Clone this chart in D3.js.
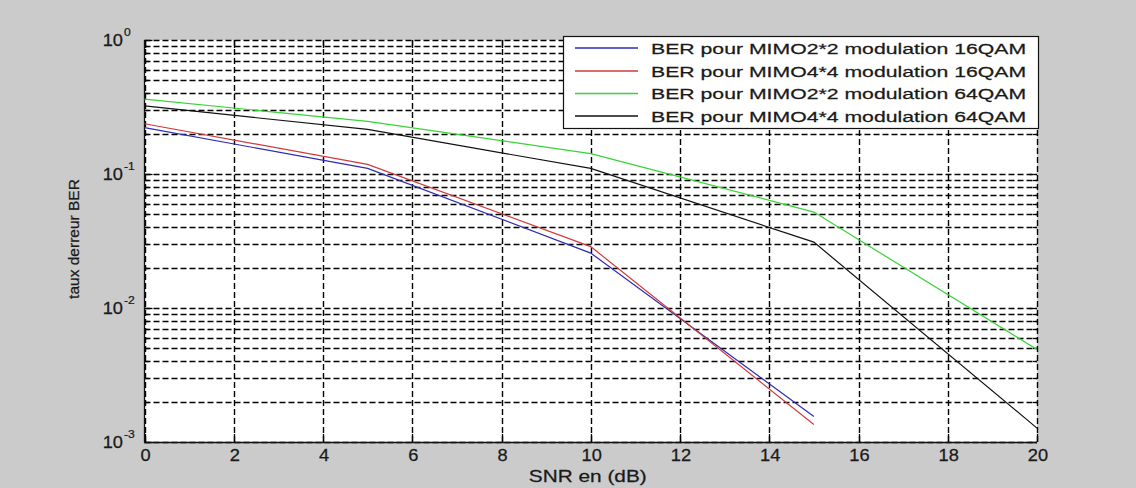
<!DOCTYPE html>
<html>
<head>
<meta charset="utf-8">
<script src="https://cdn.jsdelivr.net/npm/d3@7"></script>
<style>
  html, body { margin: 0; padding: 0; background: #cbcbcb; }
  svg { display: block; }
  text { font-family: "Liberation Sans", Arial, sans-serif; fill: #1a1a1a; stroke: #1a1a1a; stroke-width: 0.25; }
</style>
</head>
<body>
<svg id="chart" width="1136" height="488"></svg>
<script>
// SNR values (dB) for each simulation run
const snr16 = [0, 5, 10, 15];
const snr64 = [0, 5, 10, 15, 20];

// Bit error rates
const berMimo22_16qam = [0.222, 0.110, 0.0257, 0.00155];
const berMimo44_16qam = [0.237, 0.118, 0.0287, 0.00135];
const berMimo22_64qam = [0.362, 0.247, 0.142, 0.052, 0.0049];
const berMimo44_64qam = [0.322, 0.215, 0.110, 0.031, 0.00127];

const seriesNames = [
  "BER pour MIMO2*2 modulation 16QAM",
  "BER pour MIMO4*4 modulation 16QAM",
  "BER pour MIMO2*2 modulation 64QAM",
  "BER pour MIMO4*4 modulation 64QAM"
];
const seriesColors = ["#2c2cb4", "#d23a3a", "#36d436", "#111111"];

const xTicks = [0, 2, 4, 6, 8, 10, 12, 14, 16, 18, 20];
const yDecades = [1e-3, 1e-2, 1e-1, 1];
const yExponents = ["-3", "-2", "-1", "0"];

const xLabel = "SNR en (dB)";
const yLabel = "taux derreur BER";

const series = [
  { x: snr16, y: berMimo22_16qam },
  { x: snr16, y: berMimo44_16qam },
  { x: snr64, y: berMimo22_64qam },
  { x: snr64, y: berMimo44_64qam }
];

const svg = d3.select("#chart");
const plot = { left: 144.5, right: 1037, top: 40, bottom: 442 };

const x = d3.scaleLinear().domain([0, 20]).range([plot.left, plot.right]);
const y = d3.scaleLog().domain([1e-3, 1]).range([plot.bottom, plot.top]);

// axes background
svg.append("rect")
  .attr("x", plot.left).attr("y", plot.top)
  .attr("width", plot.right - plot.left).attr("height", plot.bottom - plot.top)
  .attr("fill", "#ffffff");

// minor + major log positions
const yGrid = [];
for (let e = -3; e < 0; e++) {
  for (let m = 1; m <= 9; m++) yGrid.push(m * Math.pow(10, e));
}
yGrid.push(1);

const grid = svg.append("g")
  .attr("stroke", "#000")
  .attr("stroke-width", 1.4)
  .attr("stroke-dasharray", "6,3")
  .attr("fill", "none");

grid.selectAll("line.h").data(yGrid).join("line")
  .attr("class", "h")
  .attr("x1", plot.left).attr("x2", plot.right)
  .attr("y1", d => Math.round(y(d)) + 0.5).attr("y2", d => Math.round(y(d)) + 0.5);

grid.selectAll("line.v").data(xTicks).join("line")
  .attr("class", "v")
  .attr("x1", d => Math.round(x(d)) + 0.5).attr("x2", d => Math.round(x(d)) + 0.5)
  .attr("y1", plot.top).attr("y2", plot.bottom);

// inward tick marks on all four sides
const ticks = svg.append("g").attr("stroke", "#000").attr("stroke-width", 1.3);
xTicks.forEach(t => {
  const px = Math.round(x(t)) + 0.5;
  ticks.append("line").attr("x1", px).attr("x2", px).attr("y1", plot.bottom).attr("y2", plot.bottom - 8);
  ticks.append("line").attr("x1", px).attr("x2", px).attr("y1", plot.top).attr("y2", plot.top + 8);
});
yGrid.forEach(v => {
  const py = Math.round(y(v)) + 0.5;
  const major = yDecades.includes(v);
  const len = major ? 8 : 4;
  ticks.append("line").attr("x1", plot.left).attr("x2", plot.left + len).attr("y1", py).attr("y2", py);
  ticks.append("line").attr("x1", plot.right).attr("x2", plot.right - len).attr("y1", py).attr("y2", py);
});

// solid left and bottom axis lines
svg.append("line")
  .attr("x1", plot.left).attr("x2", plot.left)
  .attr("y1", plot.top).attr("y2", plot.bottom + 0.5)
  .attr("stroke", "#111").attr("stroke-width", 1.3);
svg.append("line")
  .attr("x1", plot.left).attr("x2", plot.right)
  .attr("y1", plot.bottom + 0.5).attr("y2", plot.bottom + 0.5)
  .attr("stroke", "#111").attr("stroke-width", 1.3);

// data curves
const line = d3.line().x(d => x(d[0])).y(d => y(d[1]));
series.forEach((s, i) => {
  const pts = s.x.map((v, k) => [v, s.y[k]]);
  svg.append("path")
    .attr("d", line(pts))
    .attr("fill", "none")
    .attr("stroke", seriesColors[i])
    .attr("stroke-width", 1.2);
});

// stretched text helper
function stretchedText(parent, tx, ty, str, size, sx, anchor) {
  return parent.append("text")
    .attr("transform", `translate(${tx},${ty}) scale(${sx},1)`)
    .attr("font-size", size)
    .attr("text-anchor", anchor || "start")
    .text(str);
}

// x tick labels
xTicks.forEach(t => {
  stretchedText(svg, x(t) + 1, 461, String(t), 16, 1.14, "middle");
});

// y tick labels: 10 with superscript exponent
yDecades.forEach((v, i) => {
  const py = y(v);
  stretchedText(svg, 123, py + 6, "10", 16, 1.14, "end");
  stretchedText(svg, 124, py - 4, yExponents[i], 11, 1.1, "start");
});

// axis titles
stretchedText(svg, x(10) - 3, 482, xLabel, 16, 1.3, "middle");
svg.append("text")
  .attr("transform", `translate(79,${(plot.top + plot.bottom) / 2 - 2}) rotate(-90)`)
  .attr("font-size", 15.5)
  .attr("text-anchor", "middle")
  .text(yLabel);

// legend
const legend = { x: 563, y: 36, w: 475, h: 92 };
svg.append("rect")
  .attr("x", legend.x + 0.5).attr("y", legend.y + 0.5)
  .attr("width", legend.w).attr("height", legend.h)
  .attr("fill", "#ffffff").attr("stroke", "#111").attr("stroke-width", 1.2);
const rowY = [48, 71, 93.5, 116];
seriesNames.forEach((name, i) => {
  svg.append("line")
    .attr("x1", 575).attr("x2", 638)
    .attr("y1", rowY[i]).attr("y2", rowY[i])
    .attr("stroke", seriesColors[i]).attr("stroke-width", 1.3);
  stretchedText(svg, 651, rowY[i] + 5.5, name, 15.5, 1.37, "start");
});
</script>
</body>
</html>
